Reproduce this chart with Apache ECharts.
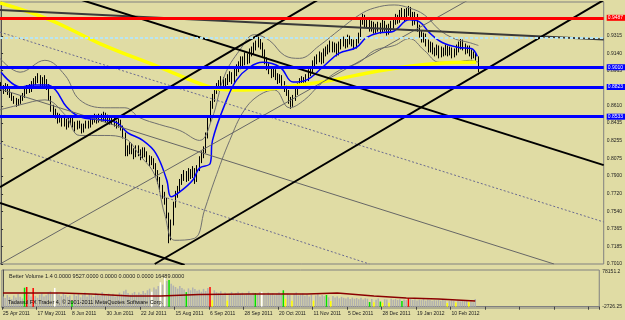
<!DOCTYPE html>
<html>
<head>
<meta charset="utf-8">
<script src="https://cdn.jsdelivr.net/npm/echarts@6/dist/echarts.min.js"></script>
<style>
  html, body { margin: 0; padding: 0; background: #e0dca4; }
  #chart { width: 625px; height: 320px; }
</style>
</head>
<body>
<div id="chart"></div>
<script>
// daily bars [open, close, low, high], 25 Apr 2011 .. late Feb 2012
const bars = [
  [0.882,0.879,0.876,0.885],[0.879,0.877,0.873,0.882],[0.877,0.881,0.875,0.884],[0.881,0.875,0.872,0.883],
  [0.875,0.872,0.869,0.878],[0.872,0.869,0.866,0.874],[0.869,0.867,0.863,0.871],[0.867,0.863,0.860,0.869],
  [0.863,0.865,0.861,0.868],[0.865,0.868,0.863,0.871],[0.868,0.871,0.866,0.874],[0.871,0.875,0.869,0.878],
  [0.875,0.879,0.873,0.882],[0.879,0.877,0.874,0.883],[0.877,0.882,0.875,0.886],[0.882,0.885,0.879,0.889],
  [0.885,0.887,0.882,0.891],[0.887,0.889,0.884,0.894],[0.889,0.883,0.880,0.892],[0.883,0.887,0.881,0.890],
  [0.887,0.885,0.881,0.892],[0.885,0.881,0.877,0.888],[0.881,0.869,0.866,0.883],[0.869,0.859,0.855,0.871],
  [0.859,0.855,0.851,0.862],[0.855,0.851,0.848,0.858],[0.851,0.847,0.843,0.854],[0.847,0.849,0.844,0.853],
  [0.849,0.843,0.840,0.851],[0.843,0.845,0.840,0.849],[0.845,0.841,0.837,0.848],[0.841,0.845,0.839,0.849],
  [0.845,0.847,0.842,0.851],[0.847,0.842,0.839,0.850],[0.842,0.839,0.835,0.845],[0.839,0.843,0.837,0.846],
  [0.843,0.841,0.838,0.846],[0.841,0.836,0.833,0.843],[0.836,0.840,0.834,0.843],[0.840,0.843,0.838,0.846],
  [0.843,0.841,0.838,0.846],[0.841,0.845,0.839,0.848],[0.845,0.847,0.842,0.851],[0.847,0.849,0.844,0.853],
  [0.849,0.846,0.843,0.852],[0.846,0.850,0.844,0.853],[0.850,0.848,0.845,0.853],[0.848,0.851,0.846,0.855],
  [0.851,0.847,0.844,0.854],[0.847,0.849,0.844,0.852],[0.849,0.845,0.842,0.851],[0.845,0.847,0.842,0.850],
  [0.847,0.843,0.840,0.849],[0.843,0.841,0.838,0.846],[0.841,0.845,0.839,0.848],[0.845,0.839,0.836,0.847],
  [0.839,0.831,0.828,0.841],[0.831,0.818,0.810,0.834],[0.818,0.814,0.810,0.821],[0.814,0.820,0.812,0.824],
  [0.820,0.816,0.812,0.823],[0.816,0.811,0.807,0.818],[0.811,0.818,0.809,0.821],[0.818,0.814,0.810,0.821],
  [0.814,0.810,0.806,0.817],[0.810,0.816,0.808,0.819],[0.816,0.812,0.809,0.819],[0.812,0.808,0.804,0.815],
  [0.808,0.804,0.800,0.811],[0.804,0.806,0.801,0.810],[0.806,0.800,0.797,0.808],[0.800,0.794,0.790,0.803],
  [0.794,0.786,0.782,0.796],[0.786,0.778,0.774,0.789],[0.778,0.771,0.767,0.781],[0.771,0.766,0.761,0.774],
  [0.766,0.751,0.747,0.768],[0.751,0.730,0.722,0.753],[0.730,0.743,0.725,0.746],[0.743,0.761,0.740,0.764],
  [0.761,0.771,0.758,0.775],[0.771,0.776,0.768,0.780],[0.776,0.784,0.773,0.787],[0.784,0.788,0.781,0.792],
  [0.788,0.792,0.785,0.796],[0.792,0.788,0.784,0.795],[0.788,0.794,0.785,0.798],[0.794,0.791,0.787,0.797],
  [0.791,0.796,0.788,0.800],[0.796,0.786,0.782,0.798],[0.786,0.798,0.784,0.801],[0.798,0.806,0.795,0.810],
  [0.806,0.811,0.803,0.815],[0.811,0.816,0.808,0.820],[0.816,0.831,0.813,0.834],[0.831,0.847,0.828,0.850],
  [0.847,0.862,0.844,0.866],[0.862,0.869,0.858,0.873],[0.869,0.877,0.865,0.881],[0.877,0.879,0.873,0.884],
  [0.879,0.883,0.876,0.887],[0.883,0.887,0.880,0.891],[0.887,0.881,0.877,0.890],[0.881,0.885,0.878,0.889],
  [0.885,0.889,0.882,0.893],[0.889,0.892,0.885,0.896],[0.892,0.887,0.883,0.895],[0.887,0.895,0.884,0.899],
  [0.895,0.899,0.891,0.903],[0.899,0.902,0.895,0.906],[0.902,0.907,0.898,0.911],[0.907,0.905,0.901,0.911],
  [0.905,0.911,0.902,0.915],[0.911,0.907,0.903,0.914],[0.907,0.915,0.904,0.919],[0.915,0.917,0.911,0.921],
  [0.917,0.921,0.913,0.925],[0.921,0.923,0.917,0.927],[0.923,0.927,0.920,0.931],[0.927,0.922,0.918,0.930],
  [0.922,0.915,0.911,0.925],[0.915,0.907,0.903,0.918],[0.907,0.901,0.897,0.910],[0.901,0.897,0.893,0.904],
  [0.897,0.893,0.889,0.900],[0.893,0.895,0.890,0.899],[0.895,0.891,0.887,0.898],[0.891,0.887,0.883,0.894],
  [0.887,0.889,0.884,0.893],[0.889,0.883,0.879,0.892],[0.883,0.879,0.875,0.886],[0.879,0.875,0.871,0.882],
  [0.875,0.867,0.863,0.877],[0.867,0.863,0.858,0.870],[0.863,0.869,0.860,0.872],[0.869,0.875,0.866,0.878],
  [0.875,0.881,0.872,0.884],[0.881,0.885,0.878,0.889],[0.885,0.887,0.881,0.891],[0.887,0.883,0.880,0.890],
  [0.883,0.889,0.881,0.893],[0.889,0.895,0.886,0.898],[0.895,0.897,0.891,0.901],[0.897,0.903,0.894,0.907],
  [0.903,0.907,0.899,0.911],[0.907,0.909,0.903,0.913],[0.909,0.912,0.905,0.916],[0.912,0.907,0.903,0.915],
  [0.907,0.915,0.904,0.919],[0.915,0.917,0.911,0.921],[0.917,0.919,0.913,0.923],[0.919,0.923,0.915,0.927],
  [0.923,0.919,0.915,0.926],[0.919,0.921,0.915,0.925],[0.921,0.915,0.911,0.924],[0.915,0.922,0.912,0.926],
  [0.922,0.925,0.918,0.929],[0.925,0.927,0.921,0.931],[0.927,0.923,0.919,0.930],[0.923,0.929,0.920,0.933],
  [0.929,0.927,0.923,0.932],[0.927,0.925,0.921,0.930],[0.925,0.922,0.918,0.928],[0.922,0.927,0.919,0.930],
  [0.927,0.931,0.924,0.935],[0.931,0.946,0.928,0.950],[0.946,0.950,0.943,0.954],[0.950,0.944,0.940,0.953],
  [0.944,0.946,0.940,0.950],[0.946,0.940,0.936,0.949],[0.940,0.943,0.936,0.947],[0.943,0.938,0.934,0.946],
  [0.938,0.940,0.934,0.944],[0.940,0.942,0.936,0.946],[0.942,0.938,0.934,0.945],[0.938,0.944,0.935,0.948],
  [0.944,0.940,0.936,0.947],[0.940,0.936,0.932,0.943],[0.936,0.940,0.933,0.944],[0.940,0.943,0.936,0.947],
  [0.943,0.946,0.939,0.950],[0.946,0.950,0.943,0.954],[0.950,0.948,0.944,0.953],[0.948,0.954,0.945,0.958],
  [0.954,0.956,0.950,0.960],[0.956,0.950,0.946,0.959],[0.950,0.956,0.947,0.960],[0.956,0.958,0.952,0.962],
  [0.958,0.953,0.949,0.961],[0.953,0.946,0.942,0.956],[0.946,0.952,0.943,0.956],[0.952,0.940,0.936,0.954],
  [0.940,0.934,0.930,0.943],[0.934,0.929,0.925,0.937],[0.929,0.931,0.925,0.935],[0.931,0.925,0.921,0.934],
  [0.925,0.919,0.915,0.928],[0.919,0.922,0.915,0.926],[0.922,0.917,0.913,0.925],[0.917,0.915,0.911,0.920],
  [0.915,0.919,0.912,0.923],[0.919,0.913,0.909,0.922],[0.913,0.917,0.910,0.921],[0.917,0.915,0.911,0.920],
  [0.915,0.919,0.912,0.923],[0.919,0.915,0.911,0.922],[0.915,0.917,0.912,0.921],[0.917,0.913,0.909,0.920],
  [0.913,0.915,0.910,0.919],[0.915,0.919,0.912,0.923],[0.919,0.922,0.915,0.926],[0.922,0.925,0.918,0.929],
  [0.925,0.921,0.917,0.928],[0.921,0.917,0.913,0.924],[0.917,0.919,0.914,0.922],[0.919,0.915,0.911,0.922],
  [0.915,0.912,0.908,0.918],[0.912,0.913,0.909,0.916],[0.913,0.909,0.905,0.915],[0.909,0.899,0.895,0.911]
];

// Better Volume histogram
const volumes = [
  22000,18500,25000,20500,16000,24000,19500,27000,21000,17500,
  40500,42000,26000,21500,40000,23000,19000,25500,28000,22000,
  24500,30500,33000,27500,40000,31000,26000,22500,29000,25000,
  21000,24000,12000,26500,23000,28500,20000,25500,30000,22000,
  27000,24500,21000,29500,26000,23000,31000,25000,22500,28000,
  24000,27500,21500,25000,30000,26500,33000,36000,29000,25500,
  28500,31500,26000,30000,27000,33500,29000,35000,38500,32000,
  41000,37000,44000,52000,47000,62000,55000,57000,49000,45000,
  42000,38500,44000,40000,36500,31000,39000,35000,41000,37500,
  34000,36000,32000,38000,33500,40000,42000,14000,35000,31000,
  29500,33000,27000,30500,13000,28000,31500,26000,29000,32000,
  27500,30000,25500,28500,33000,26000,29500,29000,27000,31000,
  32000,28000,25000,30000,26500,29000,24500,27500,31000,26000,
  35000,17000,28500,25000,12500,27000,30500,24000,26000,28500,
  23500,26500,22000,25500,13000,24000,27000,21500,25000,22500,
  25000,20000,12000,23000,19500,22000,18000,21000,19000,17500,
  20000,16500,19500,17000,18500,16000,19000,15500,18000,17000,
  10000,16500,9500,15000,17500,11000,9000,16000,15500,8500,
  17000,15000,16500,14500,16000,12000,15500,14000,18500,16500,
  14500,16000,13500,15000,14000,16500,13000,15500,14500,12500,
  14000,13500,15000,12500,14500,13000,8000,12000,14000,12500,
  9000,13500,11500,13000,12000,12500,9500,11000,9527,16489
];
const redBars = [11, 14, 96, 188];
const greenBars = [10, 32, 77, 85, 117, 130, 150, 170, 175, 185];
const whiteBars = [24, 69, 73, 75, 120];
const yellowBars = [97, 104, 131, 134, 144, 152, 172, 176, 179, 206, 210, 216];

// volume average line [bar, value]
const volAvg = [[0,29000],[27,29000],[41,27000],[59,23000],[73,23000],[91,26000],[114,27000],
  [141,27000],[155,29000],[172,23000],[187,18500],[202,16400],[219,12000]];

// moving averages and bands [bar, price]
const maLong = [[-0.5,0.965],[22.4,0.948],[45.3,0.924],[72.8,0.900],[95.7,0.880],[106.2,0.877],
  [123.2,0.878],[136.9,0.882],[152.1,0.887],[167.6,0.894],[187.3,0.901],[201.1,0.904],[218,0.905]];
const maBlue = [[0,0.895],[9,0.880],[15,0.882],[21,0.882],[25,0.877],[30,0.860],[36,0.850],[45,0.847],
  [53,0.844],[58,0.834],[65,0.826],[71,0.813],[76,0.786],[78,0.769],[82,0.774],[88,0.786],[91,0.798],
  [96,0.803],[97,0.826],[103.5,0.867],[108,0.887],[114,0.900],[120,0.905],[128,0.900],[134,0.885],
  [140,0.887],[147.5,0.900],[155,0.914],[163,0.920],[167.6,0.930],[173.6,0.935],[179.5,0.936],
  [187.3,0.948],[192,0.946],[196.5,0.935],[202.4,0.925],[210,0.920],[215.7,0.919],[218.5,0.911]];
const bandUpper = [[-0.5,0.909],[8.7,0.895],[20.1,0.907],[29.3,0.892],[36.1,0.867],[47.6,0.859],
  [56.8,0.859],[63.6,0.849],[72.8,0.842],[82,0.836],[91.1,0.826],[96.6,0.847],[102.6,0.892],
  [109.4,0.917],[116.3,0.933],[123.2,0.927],[130,0.912],[136.9,0.909],[146.1,0.922],[155.3,0.938],
  [164.4,0.953],[171.3,0.960],[180.4,0.963],[187.3,0.960],[194.2,0.953],[201.1,0.938],[207.9,0.929],
  [214.8,0.925],[219,0.922]];
const bandLower = [[-0.5,0.857],[8.7,0.862],[20.1,0.867],[29.3,0.852],[36.1,0.831],[47.6,0.831],
  [56.8,0.828],[63.6,0.811],[70.5,0.791],[75.1,0.751],[79.7,0.725],[88.8,0.727],[93.4,0.756],
  [98,0.786],[104.9,0.826],[111.7,0.857],[118.6,0.872],[125.5,0.877],[132.3,0.859],[139.2,0.867],
  [146.1,0.882],[155.3,0.897],[164.4,0.905],[171.3,0.917],[180.4,0.922],[187.3,0.929],[194.2,0.917],
  [201.1,0.905],[207.9,0.905],[214.8,0.907],[219,0.905]];

// trend lines [bar, price] end points
const trendThick = [
  [[-0.5,0.958],[276.5,0.928]],
  [[37,0.968],[276.5,0.801]],
  [[-0.5,0.7627],[84.2,0.700]],
  [[-0.5,0.7788],[145.2,0.968]],
  [[70.5,0.701],[276.5,0.968]]
];
const trendThin = [
  [[-0.5,0.878],[253.7,0.701]],
  [[-0.5,0.701],[214.3,0.968]]
];
const trendDotted = [
  [[-0.5,0.823],[169,0.701]],
  [[-0.5,0.9355],[276.5,0.7435]]
];

const levels = [0.9487, 0.9010, 0.8823, 0.8533];
const levelCyan = 0.9305;
const priceTicks = [0.7010, 0.7185, 0.7365, 0.7540, 0.7720, 0.7900, 0.8075, 0.8255, 0.8435, 0.8610,
  0.8790, 0.8965, 0.9140, 0.9315, 0.9495];
const volTicks = [75500, 0];
const volTickLabels = ['78151.2', '-2726.25'];
const dateLabels = ['25 Apr 2011','17 May 2011','8 Jun 2011','30 Jun 2011','22 Jul 2011','15 Aug 2011',
  '6 Sep 2011','28 Sep 2011','20 Oct 2011','11 Nov 2011','5 Dec 2011','28 Dec 2011','19 Jan 2012','10 Feb 2012'];

const N = 277;
const slots = Array.from({ length: N }, (_, i) => i);
const FONT = 'Liberation Sans';

const levelColors = ['#ff0000', '#0000ff', '#0000ff', '#0000ff'];

function volColor(i) {
  if (redBars.includes(i)) return '#ff0000';
  if (greenBars.includes(i)) return '#00e000';
  if (whiteBars.includes(i)) return '#ffffff';
  if (yellowBars.includes(i)) return '#ffff00';
  return '#b0b0b0';
}

function overlay(data, color, width, type, smooth) {
  return {
    type: 'line', xAxisIndex: 1, yAxisIndex: 0, data: data, symbol: 'none',
    smooth: smooth || false, silent: true, z: 4,
    lineStyle: { color: color, width: width, type: type || 'solid' }
  };
}

const chart = echarts.init(document.getElementById('chart'));

const series = [
  {
    type: 'candlestick', xAxisIndex: 0, yAxisIndex: 0, data: bars, barWidth: '55%', z: 3,
    itemStyle: { color: '#000', color0: '#000', borderColor: '#000', borderColor0: '#000', borderWidth: 1 }
  },
  overlay(bandUpper, '#707070', 1, 'solid', 0.4),
  overlay(bandLower, '#707070', 1, 'solid', 0.4),
  overlay(maLong, '#ffff00', 3.5, 'solid', 0.4),
  overlay(maBlue, '#0000ff', 1.5, 'solid', 0.4)
];
trendDotted.forEach(d => series.push(overlay(d, '#6a6a90', 1, [2, 2])));
trendThin.forEach(d => series.push(overlay(d, '#666666', 1)));
trendThick.forEach((d, k) => series.push(overlay(d, k === 0 ? '#3a3a3a' : '#000000', 2)));

// horizontal levels with boxed price labels
series.push({
  type: 'line', xAxisIndex: 1, yAxisIndex: 0, data: [], silent: true, z: 5,
  markLine: {
    symbol: 'none', silent: true,
    data: levels.map((v, k) => ({
      yAxis: v,
      lineStyle: { color: levelColors[k], width: 3, type: 'solid' },
      label: {
        show: true, position: 'end', distance: 3, formatter: v.toFixed(4),
        color: '#fff', backgroundColor: levelColors[k], fontSize: 5, fontFamily: FONT,
        padding: [1, 2, 0, 1]
      }
    })).concat([{
      yAxis: levelCyan,
      lineStyle: { color: '#b8e6f4', width: 2, type: [3, 2] },
      label: { show: false }
    }])
  }
});

// volume panel
series.push({
  type: 'bar', xAxisIndex: 2, yAxisIndex: 1, barWidth: '70%',
  data: volumes.map((v, i) => ({ value: v, itemStyle: { color: volColor(i) } }))
});
series.push({
  type: 'line', xAxisIndex: 3, yAxisIndex: 1, data: volAvg, symbol: 'none', silent: true,
  lineStyle: { color: '#8b0000', width: 1.5 }
});

const option = {
  animation: false,
  backgroundColor: '#e0dca4',
  textStyle: { fontFamily: FONT },
  title: [
    { text: 'Better Volume 1.4 0.0000 9527.0000 0.0000 0.0000 0.0000 16489.0000', left: 4, top: 268,
      textStyle: { fontSize: 5.5, fontWeight: 'normal', color: '#222', fontFamily: FONT } },
    { text: 'Tadawul FX Trader 4, \u00a9 2001-2011 MetaQuotes Software Corp.', left: 3, top: 294,
      textStyle: { fontSize: 5.5, fontWeight: 'normal', color: '#111', fontFamily: FONT } }
  ],
  grid: [
    { left: 0, top: 2, width: 604, height: 262, show: true, borderColor: '#808080', borderWidth: 1, backgroundColor: 'transparent' },
    { left: 0, top: 270, width: 604, height: 38, show: true, borderColor: '#808080', borderWidth: 1, backgroundColor: 'transparent' }
  ],
  xAxis: [
    { type: 'category', gridIndex: 0, data: slots, boundaryGap: true, show: false },
    { type: 'value', gridIndex: 0, min: -0.5, max: N - 0.5, show: false },
    {
      type: 'category', gridIndex: 1, data: slots, boundaryGap: true,
      axisLine: { show: true, lineStyle: { color: '#808080' } },
      axisTick: { show: true, length: 3, interval: (i) => i % 16 === 0, lineStyle: { color: '#444' } },
      axisLabel: {
        interval: (i) => i % 16 === 0 && i / 16 < dateLabels.length,
        formatter: (v, i) => dateLabels[i / 16] || '',
        align: 'left', margin: 3, fontSize: 5, color: '#222', fontFamily: FONT
      },
      splitLine: { show: false }
    },
    { type: 'value', gridIndex: 1, min: -0.5, max: N - 0.5, show: false }
  ],
  yAxis: [
    {
      type: 'value', gridIndex: 0, position: 'right', min: 0.7010, max: 0.9660, scale: true,
      splitLine: { show: false },
      axisLine: { show: true, lineStyle: { color: '#505050' } },
      axisTick: { show: true, length: 2, customValues: priceTicks, lineStyle: { color: '#333' } },
      axisLabel: { customValues: priceTicks, formatter: v => v.toFixed(4), fontSize: 5, margin: 3, color: '#222', fontFamily: FONT }
    },
    {
      type: 'value', gridIndex: 1, position: 'right', min: -2726.25, max: 78151.2,
      splitLine: { show: false },
      axisLine: { show: true, lineStyle: { color: '#505050' } },
      axisTick: { show: false },
      axisLabel: {
        customValues: volTicks,
        formatter: v => volTickLabels[volTicks.indexOf(v)] || '',
        fontSize: 5, margin: 3, color: '#222', fontFamily: FONT
      }
    }
  ],
  series: series
};

chart.setOption(option);

window.addEventListener('resize', function () {
  chart.resize();
});
</script>
</body>
</html>
